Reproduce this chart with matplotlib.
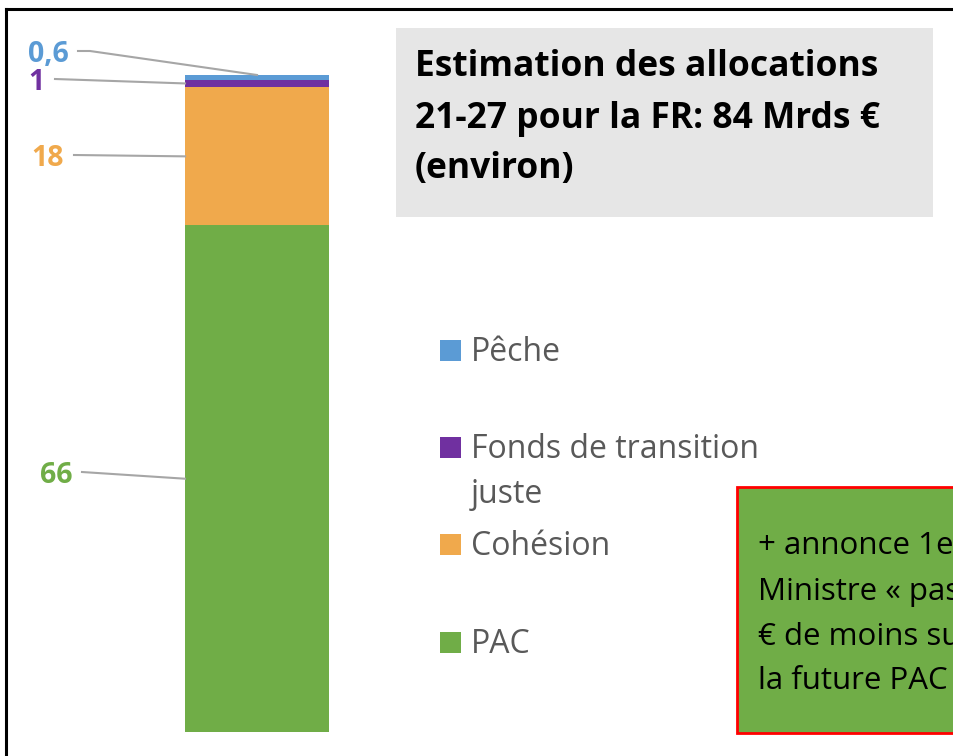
import matplotlib
matplotlib.use("Agg")
import matplotlib.pyplot as plt
from matplotlib.patches import Rectangle
from matplotlib.lines import Line2D

# ---- data ----
categories = ["PAC", "Cohésion", "Fonds de transition juste", "Pêche"]
values = [66, 18, 1, 0.6]
value_labels = ["66", "18", "1", "0,6"]
colors = ["#70AD47", "#F0A94C", "#7030A0", "#5B9BD5"]
legend_order = ["Pêche", "Fonds de transition\njuste", "Cohésion", "PAC"]
legend_colors = ["#5B9BD5", "#7030A0", "#F0A94C", "#70AD47"]
title_lines = ["Estimation des allocations", "21-27 pour la FR: 84 Mrds €", "(environ)"]
note_lines = ["+ annonce 1er Premier", "Ministre « pas un euro", "€ de moins sur", "la future PAC »"]

W, H = 954, 756
plt.rcParams['font.family'] = ['Open Sans', 'DejaVu Sans']
fig = plt.figure(figsize=(W / 100, H / 100), dpi=100)

# bar axes
bar_left, bar_right, bar_bottom, bar_top = 185, 329, 732, 75
ax = fig.add_axes([bar_left / W, (H - bar_bottom) / H, (bar_right - bar_left) / W,
                   (bar_bottom - bar_top) / H])
total = sum(values)
bottom = 0
mids = []
tops = []
for v, c in zip(values, colors):
    ax.bar(0, v, bottom=bottom, width=1.0, color=c, linewidth=0)
    mids.append(bottom + v / 2)
    tops.append(bottom + v)
    bottom += v
ax.set_xlim(-0.5, 0.5)
ax.set_ylim(0, total)
ax.axis('off')

# overlay axes in pixel coordinates
ov = fig.add_axes([0, 0, 1, 1], zorder=5)
ov.set_xlim(0, W)
ov.set_ylim(H, 0)
ov.axis('off')
ov.patch.set_visible(False)


def to_px(x, y):
    d = ax.transData.transform((x, y))
    return ov.transData.inverted().transform(d)


# frame lines
ov.add_line(Line2D([6, 6], [9, H], color='black', lw=2.2))
ov.add_line(Line2D([6, W], [9, 9], color='black', lw=2.2))

# data labels with leader lines
lab_pos = {  # right edge x, baseline y, leader start x, leader start y
    "66": (73, 483, 82, 472),
    "18": (64, 166, 74, 155),
    "1": (45, 90, 55, 79),
    "0,6": (69, 62, 78, 51),
}
for i, (lbl, c) in enumerate(zip(value_labels, colors)):
    rx, by, sx, sy = lab_pos[lbl]
    ov.text(rx, by, lbl, color=c, fontsize=20.5, fontweight='bold', ha='right', va='baseline')
    if lbl == "0,6":
        ex, ey = to_px(0.0, tops[i])
        ov.add_line(Line2D([sx, sx + 12, ex], [sy, sy, ey], color='#A6A6A6', lw=1.5))
    else:
        ex, ey = to_px(-0.5, mids[i])
        ov.add_line(Line2D([sx, ex], [sy, ey], color='#A6A6A6', lw=1.5))

# title box
ov.add_patch(Rectangle((396, 28), 933 - 396, 217 - 28, facecolor='#E6E6E6', edgecolor='none'))
for line, by in zip(title_lines, [76, 128, 178]):
    ov.text(415, by, line, fontsize=25.5, fontweight='bold', color='black', va='baseline', ha='left')

# legend
leg_y = [340, 437, 534, 632]
for lbl, c, y in zip(legend_order, legend_colors, leg_y):
    ov.add_patch(Rectangle((440, y), 21, 21, facecolor=c, edgecolor='none'))
    parts = lbl.split("\n")
    for k, p in enumerate(parts):
        ov.text(471, y + 21 + k * 45, p, fontsize=23, color='#595959', va='baseline', ha='left')

# note box
ov.add_patch(Rectangle((737, 487), 260, 733 - 487, facecolor='#70AD47', edgecolor='#FF0000', lw=2.0,
                       clip_on=True))
for line, by in zip(note_lines, [554, 600, 645, 689]):
    ov.text(758, by, line, fontsize=22.5, color='black', va='baseline', ha='left')

fig.savefig("out.png", dpi=100)
